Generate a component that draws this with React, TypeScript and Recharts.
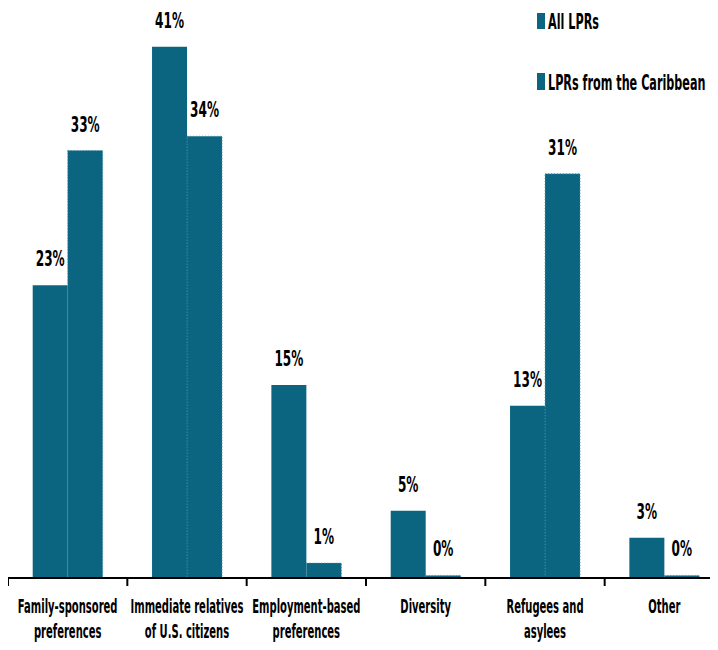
import React from "react";
import { BarChart, Bar, XAxis, YAxis, LabelList } from "recharts";

const categories = [
  "Family-sponsored|preferences",
  "Immediate relatives|of U.S. citizens",
  "Employment-based|preferences",
  "Diversity",
  "Refugees and|asylees",
  "Other",
];
const allLPRs = [22.6, 41.0, 14.9, 5.2, 13.3, 3.1];
const caribbeanLPRs = [33.0, 34.1, 1.15, 0.2, 31.2, 0.2];
const allLabels = ["23%", "41%", "15%", "5%", "13%", "3%"];
const caribLabels = ["33%", "34%", "1%", "0%", "31%", "0%"];
const seriesNames = ["All LPRs", "LPRs from the Caribbean"];

const data = categories.map((c, i) => ({
  cat: c,
  all: allLPRs[i],
  carib: caribbeanLPRs[i],
  allLabel: allLabels[i],
  caribLabel: caribLabels[i],
}));

const FONT = "'DejaVu Sans', sans-serif";
const COLOR = "#0b6581";
const BAND = 716 / 6;
const SX = 0.55;
const SX_TEXT = 0.5;
const SX_LEG = 0.51;

const Tick = (props: any) => {
  const { x, y, payload, index } = props;
  const lines = String(payload.value).split("|");
  return (
    <g>
      <line x1={x - BAND / 2} x2={x - BAND / 2} y1={y - 8} y2={y} stroke="#000" strokeWidth={2} />
      {index === categories.length - 1 && (
        <line x1={x + BAND / 2} x2={x + BAND / 2} y1={y - 8} y2={y} stroke="#000" strokeWidth={2} />
      )}
      {lines.map((l, i) => (
        <text
          key={i}
          transform={`translate(${x},${y + 27 + i * 25}) scale(${SX_TEXT},1)`}
          textAnchor="middle"
          fontFamily={FONT}
          fontWeight="bold"
          fontSize={20}
          fill="#000"
        >
          {l}
        </text>
      ))}
    </g>
  );
};

const ValueLabel = (props: any) => {
  const { x, y, width, value } = props;
  return (
    <text
      transform={`translate(${x + width / 2},${y - 19}) scale(${SX},1)`}
      textAnchor="middle"
      fontFamily={FONT}
      fontWeight="bold"
      fontSize={22}
      fill="#000"
    >
      {value}
    </text>
  );
};

const Legend = () => (
  <g fontFamily={FONT} fontWeight="bold" fontSize={22} fill="#000">
    <rect x={529} y={5} width={8} height={16} fill={COLOR} />
    <text transform={`translate(540,21) scale(${SX_LEG},1)`}>{seriesNames[0]}</text>
    <rect x={529} y={65} width={8} height={17} fill={COLOR} />
    <text transform={`translate(540,82) scale(${SX_LEG},1)`}>{seriesNames[1]}</text>
  </g>
);

export default function App() {
  return (
    <div style={{ width: 710, height: 642, overflow: "hidden", position: "relative" }}>
      <BarChart
        width={720}
        height={642}
        data={data}
        margin={{ top: 0, right: 4, bottom: 0, left: 0 }}
        barCategoryGap="20.7%"
        barGap={0}
      >
        <XAxis
          dataKey="cat"
          interval={0}
          tickLine={false}
          axisLine={{ stroke: "#000", strokeWidth: 2 }}
          tick={<Tick />}
          height={72}
        />
        <YAxis hide domain={[0, 44]} />
        <Bar dataKey="all" fill={COLOR} isAnimationActive={false}>
          <LabelList dataKey="allLabel" content={<ValueLabel />} />
        </Bar>
        <Bar
          dataKey="carib"
          fill={COLOR}
          stroke="#4a93a8"
          strokeDasharray="1 2"
          strokeWidth={1}
          isAnimationActive={false}
        >
          <LabelList dataKey="caribLabel" content={<ValueLabel />} />
        </Bar>
        <Legend />
      </BarChart>
    </div>
  );
}
